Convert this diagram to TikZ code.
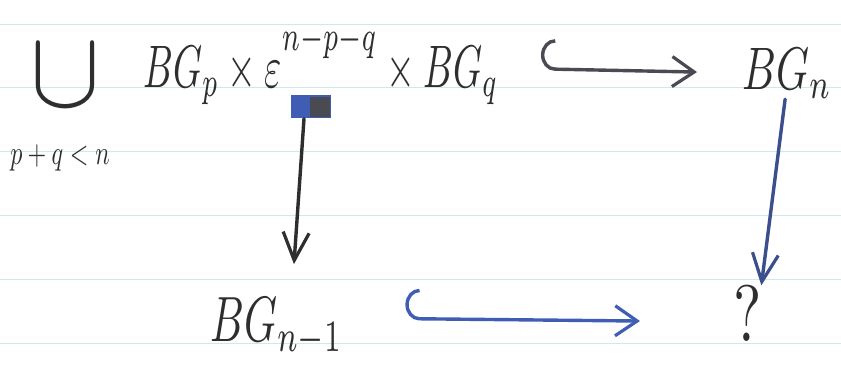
\documentclass[tikz,border=0pt]{standalone}
\usepackage{graphicx}
\usetikzlibrary{arrows.meta}
\definecolor{ink}{HTML}{2E2E2E}
\definecolor{inkgray}{HTML}{4A4A52}
\definecolor{inkblue}{HTML}{3F5DB3}
\definecolor{ruleline}{HTML}{CFE8EA}
\begin{document}
\begin{tikzpicture}[x=1pt,y=-1pt,
  lbl/.style={inner sep=0pt, text=ink},
  barb/.style={line width=3.4pt, line cap=round},
  hookarr/.style={barb, {Hooks[right,length=14pt,width=60pt,line width=3.4pt]}-{Straight Barb[length=22pt,width=30pt,line width=3.2pt]}},
  downarr/.style={barb, -{Straight Barb[length=28pt,width=26pt,line width=3.2pt]}}]
\fill[white] (0,0) rectangle (841,371);
\useasboundingbox (0,0) rectangle (841,371);
\foreach \yy in {25,88,152,216,280,344} \draw[ruleline, line width=1pt] (0,\yy) -- (841,\yy);

\node[lbl] (U) at (65,76) {\scalebox{10.5}[11]{$\cup$}};
\node[lbl] (idx) at (60,158) {\scalebox{2.4}[3.4]{$p+q<n$}};

\node[lbl, anchor=base west] (src) at (143,88) {\scalebox{3.7}[6]{$BG_p\times\varepsilon^{\raisebox{2.6pt}{$\scriptstyle n-p-q$}}\times BG_q$}};
\node[lbl, anchor=base west] (BGn) at (742,90) {\scalebox{4.2}[6]{$BG_n$}};
\node[lbl, anchor=base west] (BGm) at (210,342) {\scalebox{4.2}[6.4]{$BG_{n-1}$}};
\node[lbl, anchor=base west] (Q) at (733,342) {\scalebox{6}[8]{?}};

\node[fill=inkblue, minimum width=40pt, minimum height=23pt, inner sep=0pt] (sq) at (311,107) {};
\node[fill=inkgray, minimum width=20pt, minimum height=20pt, inner sep=0pt] (sqd) at (320,107) {};

\draw[hookarr, inkgray, shorten <=42pt, shorten >=45pt] ([yshift=20pt]src.base east) -- ([yshift=17pt]BGn.base west);
\draw[downarr, ink, shorten >=34pt] ([xshift=-7pt]sq.south) -- ([xshift=15pt]BGm.north);
\draw[downarr, inkblue!70!ink] ([xshift=-2pt]BGn.south) -- ([xshift=14pt]Q.north);
\draw[hookarr, inkblue, shorten <=62pt, shorten >=93pt] ([yshift=24pt]BGm.base east) -- ([yshift=20pt]Q.base west);
\end{tikzpicture}
\end{document}
